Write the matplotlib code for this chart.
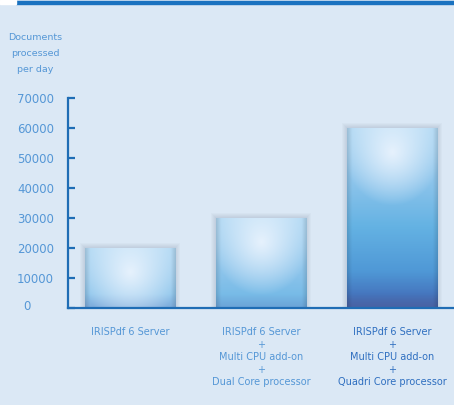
import numpy as np
import matplotlib
matplotlib.use("Agg")
import matplotlib.pyplot as plt
from matplotlib.patches import Rectangle
from matplotlib.colors import LinearSegmentedColormap

# ---- data ----
categories = [
    "IRISPdf 6 Server",
    "IRISPdf 6 Server\n+\nMulti CPU add-on\n+\nDual Core processor",
    "IRISPdf 6 Server\n+\nMulti CPU add-on\n+\nQuadri Core processor",
]
values = [20000, 30000, 60000]
yticks = [0, 10000, 20000, 30000, 40000, 50000, 60000, 70000]
ylabel = "Documents\nprocessed\nper day"

BG = "#dbe8f5"
AXC = "#1f6db5"
TXT = "#5597d6"

W, H = 454, 405
fig = plt.figure(figsize=(W / 100, H / 100), dpi=100, facecolor=BG)

# top blue rule
fig.patches.append(Rectangle((16 / W, 1 - 4 / H), 1 - 16 / W, 3 / H,
                             transform=fig.transFigure, color="#1a72c0", zorder=5))
fig.patches.append(Rectangle((0, 1 - 4 / H), 16 / W, 4 / H,
                             transform=fig.transFigure, color="white", zorder=5))

x0, x1 = 68, 454
yb, yt = 308, 98
ax = fig.add_axes([x0 / W, (H - yb) / H, (x1 - x0) / W, (yb - yt) / H])
ax.set_facecolor("none")
xmin, xmax = -0.473, 2.474
ax.set_xlim(xmin, xmax)
ax.set_ylim(0, 70000)
pxx = (x1 - x0) / (xmax - xmin)
pxy = (yb - yt) / 70000

xs = np.arange(len(values))
width = 0.69
bars = ax.bar(xs, values, width=width, color="none", zorder=3)

cmap = LinearSegmentedColormap.from_list(
    "barv", [(0.0, "#b4daf4"), (0.3, "#8cc4eb"), (0.55, "#64b2e3"),
             (0.8, "#4f98d6"), (0.92, "#4678c0"), (1.0, "#3c5a9c")])

for b in bars:
    bx, bw, bh = b.get_x(), b.get_width(), b.get_height()
    # shadow
    for k in range(1, 6):
        ax.add_patch(Rectangle((bx - k / pxx, 0), bw + 2 * k / pxx, bh + k / pxy,
                               color="#50607a", alpha=0.035, lw=0, zorder=2))
    nx, ny = 120, 200
    u = np.linspace(0, 1, nx)
    yy = np.linspace(bh, 0, ny)
    U, Y = np.meshgrid(u, yy)
    depth = (bh - Y) / 60000.0
    rgba = cmap(np.clip(depth, 0, 1))
    # bottom purple-ish tint
    bot = np.clip(1 - Y * pxy / 14, 0, 1) * 0.3
    rgba[..., :3] = rgba[..., :3] * (1 - bot[..., None]) + np.array([0.42, 0.47, 0.72]) * bot[..., None]
    # radial highlight near top center (in pixels)
    dxp = (U - 0.5) * bw * pxx
    dyp = (bh - Y) * pxy - 24
    r = np.sqrt(dxp ** 2 + (dyp * 0.9) ** 2)
    hl = np.clip(1 - r / 48, 0, 1) ** 0.9 * 0.85
    rgba[..., :3] = rgba[..., :3] * (1 - hl[..., None]) + np.array([0.95, 0.97, 1.0]) * hl[..., None]
    # slight darker edges
    edge = np.clip(1 - np.minimum(U, 1 - U) * bw * pxx / 5, 0, 1) * 0.12
    rgba[..., :3] = rgba[..., :3] * (1 - edge[..., None])
    im = ax.imshow(rgba, extent=(bx, bx + bw, 0, bh), aspect="auto",
                   interpolation="bilinear", zorder=3)
    im.set_clip_path(b)

for s in ["top", "right"]:
    ax.spines[s].set_visible(False)
for s in ["left", "bottom"]:
    ax.spines[s].set_color(AXC)
    ax.spines[s].set_linewidth(1.6)
    ax.spines[s].set_zorder(4)

ax.set_yticks(yticks)
ax.set_yticklabels([f"{v}" if v else "" for v in yticks])
ax.tick_params(axis="y", direction="in", length=5, width=1.6, color=AXC,
               labelcolor=TXT, labelsize=8.5, pad=10)
fig.text(27 / W, 1 - 307 / H, "0", ha="center", va="center", fontsize=8.5, color=TXT)

ax.set_xticks(xs)
ax.set_xticklabels(categories)
ax.tick_params(axis="x", length=0, labelsize=7, labelcolor=TXT, pad=14)
for lbl in ax.get_xticklabels():
    lbl.set_linespacing(1.3)
ax.get_xticklabels()[2].set_color("#2f6fc0")

fig.text(35 / W, 1 - 33 / H, ylabel, ha="center", va="top", fontsize=6.8,
         color=TXT, linespacing=2.0)

fig.savefig("out.png", dpi=100, facecolor=BG)
